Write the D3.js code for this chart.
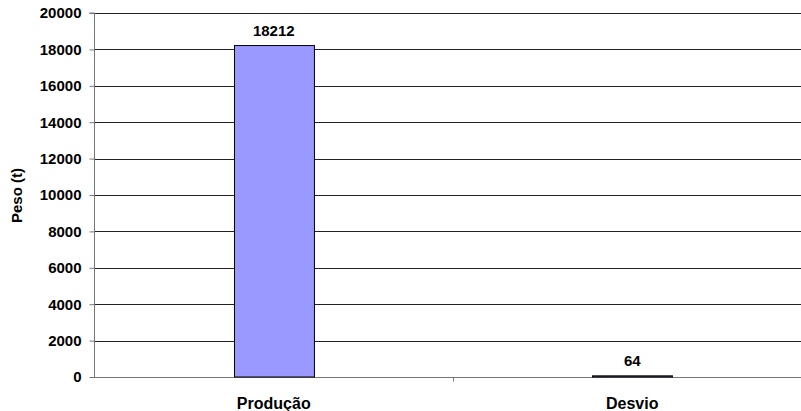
<!DOCTYPE html>
<html lang="pt">

<head>
    <meta charset="UTF-8">
    <title>Peso</title>
    <style>
        body {
            margin: 0;
            background: #fff;
        }

        svg {
            display: block;
            font-family: "Liberation Sans", Arial, sans-serif;
            font-weight: bold;
        }
    </style>
</head>

<body>
    <svg width="801" height="411"></svg>
    <script src="https://cdn.jsdelivr.net/npm/d3@7.8.5/dist/d3.min.js"></script>
    <script>
        const categories = ['Produção', 'Desvio']
        const values = [18212, 64]
        const yTicks = [0, 2000, 4000, 6000, 8000, 10000, 12000, 14000, 16000, 18000, 20000]

        const svg = d3.select('svg')
        const plotLeft = 94, plotRight = 812, plotTop = 13, plotBottom = 377

        const x = d3.scaleBand()
            .domain(categories)
            .range([plotLeft, plotRight])
            .paddingInner(0.777)
            .paddingOuter(0.39)

        // band without padding, for the category tick marks
        const xCat = d3.scaleBand().domain(categories).range([plotLeft, plotRight])

        const y = d3.scaleLinear()
            .domain([0, 20000])
            .range([plotBottom, plotTop])

        // gridlines
        svg.append('g')
            .selectAll('line')
            .data(yTicks.filter(d => d > 0))
            .join('line')
            .attr('x1', plotLeft)
            .attr('x2', plotRight)
            .attr('y1', d => Math.round(y(d)) + 0.5)
            .attr('y2', d => Math.round(y(d)) + 0.5)
            .attr('stroke', '#222')
            .attr('stroke-width', 1)

        // y axis
        const yAxis = svg.append('g')
            .attr('transform', `translate(${plotLeft + 0.5},0)`)
            .call(d3.axisLeft(y).tickValues(yTicks).tickSize(5).tickPadding(8).tickFormat(d3.format('d')))
        yAxis.select('.domain').attr('stroke', '#777').attr('d', `M-5,${plotTop}H0V${plotBottom}`)
        yAxis.selectAll('.tick line').attr('stroke', '#777')
        yAxis.selectAll('.tick text')
            .attr('fill', '#000')
            .style('font-size', '15px')
            .style('font-weight', 'bold')
            .style('font-family', '"Liberation Sans", Arial, sans-serif')

        // x axis
        const xAxis = svg.append('g')
            .attr('transform', `translate(0,${Math.round(plotBottom) + 0.5})`)
        xAxis.append('line')
            .attr('x1', plotLeft)
            .attr('x2', plotRight)
            .attr('stroke', '#777')
        xAxis.selectAll('.cat-tick')
            .data(categories.slice(1))
            .join('line')
            .attr('class', 'cat-tick')
            .attr('x1', d => Math.round(xCat(d)) + 0.5)
            .attr('x2', d => Math.round(xCat(d)) + 0.5)
            .attr('y1', 0)
            .attr('y2', 4)
            .attr('stroke', '#777')
        xAxis.selectAll('.cat-label')
            .data(categories)
            .join('text')
            .attr('class', 'cat-label')
            .attr('x', d => x(d) + x.bandwidth() / 2)
            .attr('y', 31.5)
            .attr('text-anchor', 'middle')
            .style('font-size', '16px')
            .text(d => d)

        // bars
        svg.append('g')
            .selectAll('rect')
            .data(values)
            .join('rect')
            .attr('x', (d, i) => Math.round(x(categories[i])) + 0.5)
            .attr('y', d => y(d))
            .attr('width', x.bandwidth())
            .attr('height', d => Math.max(1, y(0) - y(d)))
            .attr('fill', '#9999ff')
            .attr('stroke', '#000')
            .attr('stroke-width', 1)

        // value labels
        svg.append('g')
            .selectAll('text')
            .data(values)
            .join('text')
            .attr('x', (d, i) => x(categories[i]) + x.bandwidth() / 2)
            .attr('y', d => y(d) - 10)
            .attr('text-anchor', 'middle')
            .style('font-size', '15px')
            .text(d => d)

        // y title
        svg.append('text')
            .attr('transform', `translate(21.5,${(plotTop + plotBottom) / 2 + 0.5}) rotate(-90)`)
            .attr('text-anchor', 'middle')
            .style('font-size', '15px')
            .text('Peso (t)')
    </script>
</body>

</html>
